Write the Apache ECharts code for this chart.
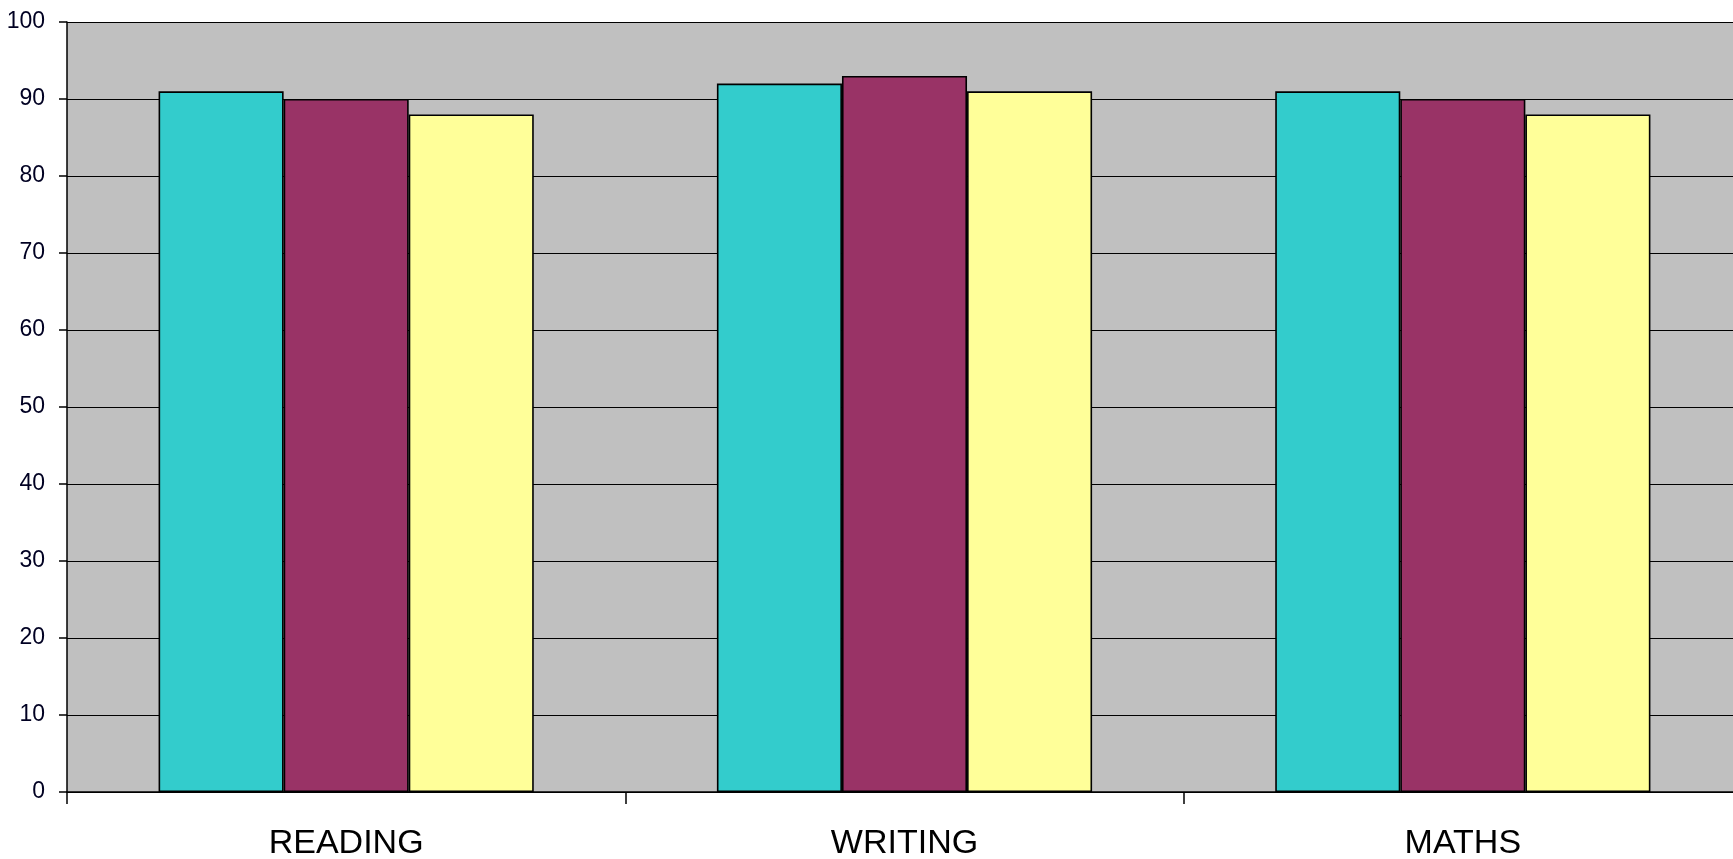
<!DOCTYPE html>
<html>
<head>
<meta charset="utf-8">
<style>
  html, body { margin: 0; padding: 0; background: #ffffff; overflow: hidden; }
  #chart { width: 1733px; height: 859px; }
</style>
<script src="https://cdn.jsdelivr.net/npm/echarts@6/dist/echarts.min.js"></script>
</head>
<body>
<div id="chart"></div>
<script>
const categories = ['READING', 'WRITING', 'MATHS'];
const seriesA = [91, 92, 91];
const seriesB = [90, 93, 90];
const seriesC = [88, 91, 88];
const colors = ['#33CCCC', '#993366', '#FFFF99'];

const chart = echarts.init(document.getElementById('chart'), null, { renderer: 'canvas' });
const makeSeries = (data, color) => ({
  type: 'bar',
  data: data,
  barWidth: '22.4%',
  barGap: '0%',
  itemStyle: { color: color, borderColor: '#000000', borderWidth: 1.6 },
  animation: false
});
chart.setOption({
  backgroundColor: '#ffffff',
  animation: false,
  grid: {
    left: 67, top: 22, height: 770, width: 1675,
    outerBoundsMode: 'none',
    containLabel: false,
    show: true, backgroundColor: '#C0C0C0', borderWidth: 0
  },
  xAxis: {
    type: 'category',
    data: categories,
    axisLine: { show: true, lineStyle: { color: '#000000', width: 1.5 } },
    axisTick: { show: true, length: 12, lineStyle: { color: '#000000', width: 1.5 } },
    axisLabel: {
      margin: 35, color: '#000000', fontSize: 34,
      fontFamily: 'Liberation Sans, Arial, sans-serif'
    },
    splitLine: { show: false }
  },
  yAxis: {
    type: 'value',
    min: 0, max: 100, interval: 10,
    axisLine: { show: true, lineStyle: { color: '#000000', width: 1.5 } },
    axisTick: { show: true, length: 8, lineStyle: { color: '#000000', width: 1.5 } },
    axisLabel: {
      margin: 22, color: '#000022', fontSize: 23,
      fontFamily: 'Liberation Sans, Arial, sans-serif'
    },
    splitLine: { show: true, lineStyle: { color: '#000000', width: 1.2 } }
  },
  series: [
    makeSeries(seriesA, colors[0]),
    makeSeries(seriesB, colors[1]),
    makeSeries(seriesC, colors[2])
  ]
});
</script>
</body>
</html>
